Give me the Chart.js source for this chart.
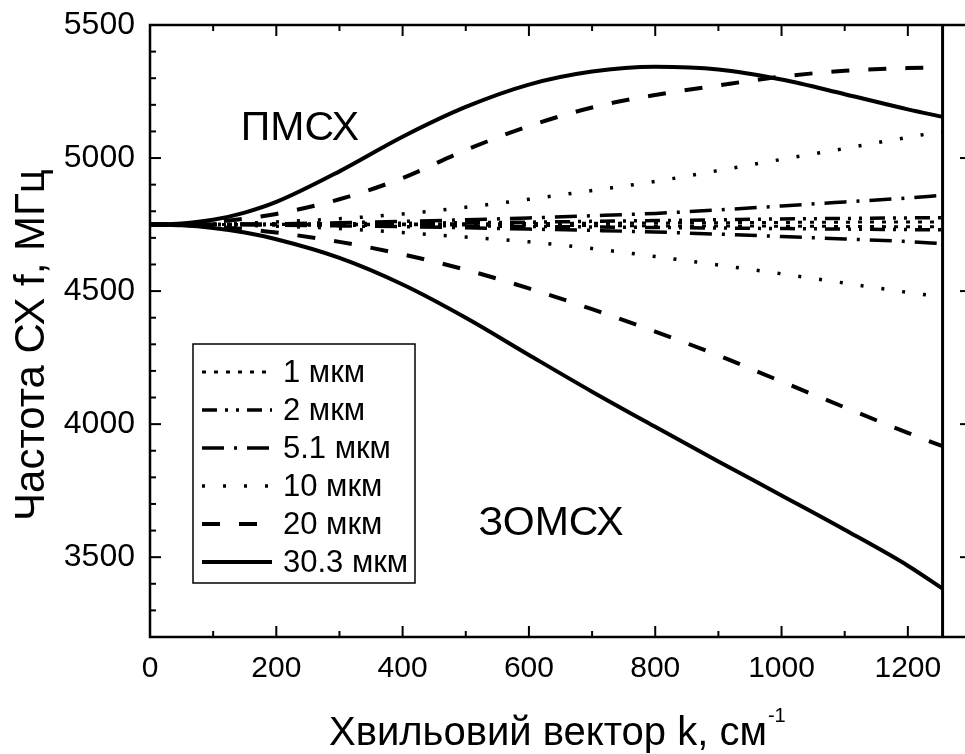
<!DOCTYPE html>
<html><head><meta charset="utf-8">
<script src="https://cdn.jsdelivr.net/npm/chart.js@4.4.1/dist/chart.umd.min.js"></script>
<style>html,body{margin:0;padding:0;overflow:hidden;background:#fff;width:965px;height:754px}</style>
</head><body>
<canvas id="c" width="1000" height="754" style="display:block"></canvas>
<script>
// ---- data ----
const kValues = [0,50,100,150,200,300,400,500,600,700,800,900,1000,1100,1200,1255];
const f1Upper   = [4750,4750,4750,4750,4751,4751,4752,4753,4754,4755,4756,4757,4758,4759,4760,4760];
const f1Lower   = [4750,4750,4750,4750,4750,4749,4749,4748,4747,4746,4745,4745,4744,4743,4742,4742];
const f2Upper   = [4750,4750,4750,4751,4752,4753,4755,4757,4759,4762,4765,4768,4771,4773,4775,4776];
const f2Lower   = [4750,4750,4750,4750,4749,4748,4747,4745,4743,4741,4739,4737,4735,4733,4731,4730];
const f51Upper  = [4750,4750,4751,4752,4753,4757,4762,4768,4775,4783,4792,4805,4820,4835,4850,4860];
const f51Lower  = [4750,4750,4750,4749,4748,4745,4742,4738,4733,4728,4722,4714,4705,4696,4686,4678];
const f10Upper  = [4750,4750,4752,4755,4760,4772,4790,4815,4845,4878,4912,4953,4995,5036,5078,5100];
const f10Lower  = [4750,4750,4749,4747,4744,4735,4720,4703,4685,4660,4630,4598,4565,4530,4495,4478];
const f20Upper  = [4750,4752,4760,4772,4790,4845,4925,5030,5120,5190,5237,5273,5306,5328,5338,5340];
const f20Lower  = [4750,4748,4742,4733,4720,4685,4638,4580,4510,4432,4348,4258,4160,4063,3967,3917];
const f303Upper = [4750,4754,4768,4795,4835,4950,5080,5192,5276,5325,5343,5333,5295,5240,5183,5155];
const f303Lower = [4750,4747,4737,4720,4695,4625,4525,4400,4260,4122,3990,3860,3732,3603,3468,3382];
const seriesNames = ['1 мкм','2 мкм','5.1 мкм','10 мкм','20 мкм','30.3 мкм'];
const xTickLabels = [0,200,400,600,800,1000,1200];
const yTickLabels = [3500,4000,4500,5000,5500];
const xRange = [0,1300];
const yRange = [3200,5500];
const boundaryK = 1255;
const upperLabel = 'ПМСХ';
const lowerLabel = 'ЗОМСХ';
const xTitle = 'Хвильовий вектор k, см';
const xTitleSup = '-1';
const yTitle = 'Частота СХ f, МГц';

// ---- styles ----
const FONT = '"Liberation Sans", Arial, sans-serif';
const styles = [
  {dash:[4,8], width:3},
  {dash:[15,8,3,8,3,8], width:3.5},
  {dash:[22,10,3,10], width:3.5},
  {dash:[3,18], width:3.5},
  {dash:[18,19], width:4},
  {dash:[], width:4}
];
const pairs = [[f1Upper,f1Lower],[f2Upper,f2Lower],[f51Upper,f51Lower],[f10Upper,f10Lower],[f20Upper,f20Lower],[f303Upper,f303Lower]];
const toPts = arr => arr.map((v,i)=>({x:kValues[i], y:v}));
const datasets = [];
pairs.forEach((p,i)=>{
  p.forEach((arr,j)=>{
    datasets.push({label: seriesNames[i] + (j===0?' up':' low'), data: toPts(arr),
      borderColor:'#000', borderWidth: styles[i].width, borderDash: styles[i].dash,
      pointRadius:0, fill:false, cubicInterpolationMode:'monotone', borderCapStyle:'butt'});
  });
});
datasets.push({label:'boundary', data:[{x:boundaryK,y:yRange[0]},{x:boundaryK,y:yRange[1]}],
  borderColor:'#000', borderWidth:3, pointRadius:0, fill:false});

const framePlugin = {
  id:'frame',
  afterDatasetsDraw(chart){
    const {ctx, chartArea:a, scales:{x, y}} = chart;
    ctx.save();
    ctx.strokeStyle = '#000'; ctx.fillStyle = '#000';
    ctx.setLineDash([]);
    ctx.lineWidth = 2.5;
    ctx.strokeRect(a.left, a.top, a.right-a.left, a.bottom-a.top);
    ctx.lineWidth = 2;
    const seg = (x1,y1,x2,y2)=>{ctx.beginPath();ctx.moveTo(x1,y1);ctx.lineTo(x2,y2);ctx.stroke();};
    for (let v = xRange[0]; v <= xRange[1]; v += 100) {
      const px = x.getPixelForValue(v); const L = (v % 200 === 0) ? 11 : 6;
      seg(px, a.bottom, px, a.bottom - L); seg(px, a.top, px, a.top + L);
    }
    for (let v = yRange[0]; v <= yRange[1]; v += 100) {
      const py = y.getPixelForValue(v); const L = (v % 500 === 0) ? 11 : 6;
      seg(a.left, py, a.left + L, py); seg(a.right, py, a.right - L, py);
    }
    // annotations
    ctx.textAlign = 'center'; ctx.textBaseline = 'middle';
    ctx.font = '41px ' + FONT;
    ctx.fillText(upperLabel, 300, 129);
    ctx.fillText(lowerLabel, 551, 524);
    // legend
    ctx.lineWidth = 1.5;
    ctx.strokeRect(193, 344, 222, 239);
    ctx.font = '31px ' + FONT;
    ctx.textAlign = 'left';
    seriesNames.forEach((n,i)=>{
      const yy = 372 + i*38;
      ctx.lineWidth = styles[i].width; ctx.setLineDash(styles[i].dash);
      seg(202, yy, 272, yy);
      ctx.setLineDash([]);
      ctx.fillText(n, 283, yy+1);
    });
    // axis titles
    ctx.textBaseline = 'alphabetic';
    ctx.font = '40px ' + FONT;
    const w = ctx.measureText(xTitle).width;
    const start = 329;
    ctx.fillText(xTitle, start, 745);
    ctx.font = '20px ' + FONT;
    ctx.fillText(xTitleSup, start + w + 1, 722);
    ctx.translate(44, 345); ctx.rotate(-Math.PI/2);
    ctx.textAlign = 'center';
    ctx.font = '42px ' + FONT;
    ctx.fillText(yTitle, 0, 0);
    ctx.restore();
  }
};

new Chart(document.getElementById('c'), {
  type:'line',
  data:{datasets},
  options:{
    responsive:false, animation:false,
    layout:{padding:{left:0, top:25, right:29, bottom:0}},
    plugins:{legend:{display:false}, tooltip:{enabled:false}},
    scales:{
      x:{type:'linear', min:xRange[0], max:xRange[1],
        afterBuildTicks: s => { s.ticks = xTickLabels.map(v=>({value:v})); },
        afterFit: s => { s.height = 117; s.paddingLeft = 0; s.paddingRight = 0; },
        grid:{display:false, drawTicks:false}, border:{display:false},
        ticks:{color:'#000', font:{family:FONT, size:30}, padding:14, maxRotation:0, autoSkip:false, callback: v => String(v)}},
      y:{type:'linear', min:yRange[0], max:yRange[1],
        afterBuildTicks: s => { s.ticks = yTickLabels.map(v=>({value:v})); },
        afterFit: s => { s.width = 150; s.paddingTop = 0; s.paddingBottom = 0; },
        grid:{display:false, drawTicks:false}, border:{display:false},
        ticks:{color:'#000', font:{family:FONT, size:32}, padding:15, autoSkip:false, callback: v => String(v)}}
    }
  },
  plugins:[framePlugin]
});
</script>
</body></html>
